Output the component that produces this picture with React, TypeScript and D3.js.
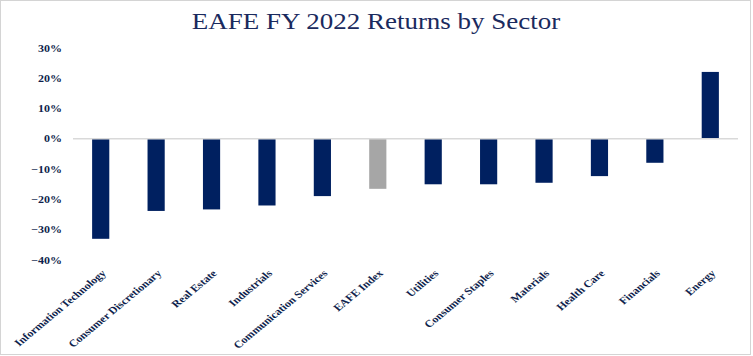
import React from "react";
import * as d3 from "d3";

const categories = [
  "Information Technology",
  "Consumer Discretionary",
  "Real Estate",
  "Industrials",
  "Communication Services",
  "EAFE Index",
  "Utilities",
  "Consumer Staples",
  "Materials",
  "Health Care",
  "Financials",
  "Energy",
];
const returns = [-33.0, -23.8, -23.3, -22.0, -18.9, -16.5, -15.0, -15.0, -14.5, -12.3, -7.9, 22.1];
const highlight = ["EAFE Index"];
const yTicks = [30, 20, 10, 0, -10, -20, -30, -40];
const title = "EAFE FY 2022 Returns by Sector";

const W = 753;
const H = 356;
const NAVY = "#002060";
const GREY = "#a6a6a6";
const TEXT = "#0f1f4d";
const SX = 1.2; // the reference is stretched horizontally
const SERIF = "'Liberation Serif', 'Times New Roman', serif";

export default function App() {
  const x = d3
    .scaleBand<string>()
    .domain(categories)
    .range([73, 738])
    .paddingInner(0.69)
    .paddingOuter(0.345);
  const y = d3.scaleLinear().domain([-40, 30]).range([260, 48]);

  return (
    <>
      <style>{`body{margin:0}`}</style>
      <svg width={W} height={H} style={{ display: "block", background: "#fff" }}>
        <rect x={0.5} y={0.5} width={W - 3} height={H - 2} fill="#fff" stroke="#d4d4d4" strokeWidth={1} />
        <text
          transform={`translate(376,29) scale(${SX},1)`}
          textAnchor="middle"
          fontFamily={SERIF}
          fontSize={22.5}
          fill="#1a2a5e"
        >
          {title}
        </text>
        {yTicks.map((t) => (
          <text
            key={t}
            transform={`translate(62,${y(t)}) scale(${SX},1)`}
            dy="0.35em"
            textAnchor="end"
            fontFamily={SERIF}
            fontWeight="bold"
            fontSize={10}
            fill={TEXT}
          >
            {d3.format(".0%")(t / 100)}
          </text>
        ))}
        {categories.map((c, i) => {
          const v = returns[i];
          const y0 = y(0);
          const yv = y(v);
          return (
            <rect
              key={c}
              x={x(c)}
              y={Math.min(y0, yv)}
              width={x.bandwidth()}
              height={Math.abs(yv - y0)}
              fill={highlight.includes(c) ? GREY : NAVY}
            />
          );
        })}
        <line x1={73} x2={738} y1={y(0)} y2={y(0)} stroke="#d9d9d9" strokeWidth={1.5} />
        {categories.map((c) => {
          const cx = (x(c) as number) + x.bandwidth() / 2;
          return (
            <text
              key={c}
              transform={`translate(${cx + 6},${274}) scale(${SX},1) rotate(-45)`}
              textAnchor="end"
              fontFamily={SERIF}
              fontWeight="bold"
              fontSize={10}
              fill={TEXT}
            >
              {c}
            </text>
          );
        })}
      </svg>
    </>
  );
}
